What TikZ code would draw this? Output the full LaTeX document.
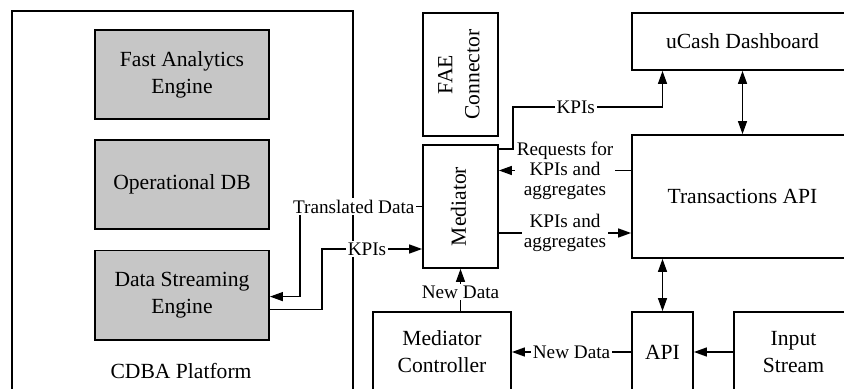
\documentclass[tikz,border=0pt]{standalone}
\usepackage{fontspec}
\setmainfont{Liberation Serif}
\usetikzlibrary{calc}
\usetikzlibrary{positioning}
\usetikzlibrary{arrows.meta}
\definecolor{boxgrey}{RGB}{198,198,198}
\providecommand\uptext[1]{\rotatebox{90}{\begin{tabular}{@{}c@{}}#1\end{tabular}}}

\begin{document}
\begin{tikzpicture}[x = 0.5pt, y = -0.5pt,
        line width = 0.9pt,
        >={Triangle[length = 6.5pt, width = 4.5pt]},
        box/.style = {draw, rectangle, align = center, inner sep = 0pt,
            font = \fontsize{10.8}{13.5}\selectfont},
        greybox/.style = {box, fill = boxgrey, minimum width = 87pt, minimum height = 44.5pt},
        vbox/.style = {box, minimum width = 37.5pt, minimum height = 61.5pt},
        lbl/.style = {fill = white, inner sep = 1pt, align = center,
            font = \fontsize{9.6}{10}\selectfont},
        conn/.style = {line width = 0.7pt}]
    \useasboundingbox (0,0) rectangle (844,389);
    \clip (0,0) rectangle (844,389);

    % CDBA side
    \node (cdba) at (182.5,215.5) [box, minimum width = 170.5pt, minimum height = 204.5pt] {};
    \node (cdbalabel) at (181,371) [font = \fontsize{10.8}{13.5}\selectfont] {CDBA Platform};

    \node (fae) at (182,74.5) [greybox] {Fast Analytics\\Engine};
    \node (odb) [greybox, below = 9.5pt of fae] {Operational DB};
    \node (dse) [greybox, below = 10pt of odb] {Data Streaming\\Engine};

    % middle column
    \node (faecon) at (460.5,74.5) [vbox] {\uptext{FAE\\Connector}};
    \node (mediator) at (460.5,206.5) [vbox] {\uptext{Mediator}};
    \node (mc) at (442,352) [box, minimum width = 69pt, minimum height = 40pt] {Mediator\\Controller};

    % right side
    \node (ucash) at (742.5,41.5) [box, minimum width = 110.5pt, minimum height = 28.5pt] {uCash Dashboard};
    \node (tapi) at (742.5,196.5) [box, minimum width = 110.5pt, minimum height = 61.5pt] {Transactions API};
    \node (api) at (662.5,352) [box, minimum width = 30.5pt, minimum height = 40pt] {API};
    \node (input) at (793.5,352) [box, minimum width = 59.5pt, minimum height = 40pt] {Input\\Stream};

    % connectors
    \draw[conn, <->] (ucash) -- (tapi);
    \draw[conn, <->] (api.north) -- (api.north |- tapi.south);
    \draw[conn, ->] (input) -- (api);
    \draw[conn, ->] (api) -- node[lbl] {New Data} (mc);
    \draw[conn, ->] (mediator.south |- mc.north) -- node[lbl, pos = 0.45] {New Data} (mediator.south);

    \coordinate (kpibend) at ($(api |- ucash.south)+(0,36)$);
    \draw[conn, ->] ([yshift = -2.5pt]mediator.north east) -- ++(14,0)
        |- node[lbl, pos = 0.71] {KPIs} (kpibend) -- (api |- ucash.south);

    \draw[conn, ->] ([yshift = 13pt]tapi.west) -- node[lbl] {Requests for\\KPIs and\\aggregates}
        ([yshift = 13pt]tapi.west -| mediator.east);
    \draw[conn, ->] ([yshift = -13.25pt]mediator.east) -- node[lbl] {KPIs and\\aggregates}
        ([yshift = -13.25pt]mediator.east -| tapi.west);

    \draw[conn, ->] (mediator.west) -- node[lbl, pos = 0.56] {Translated Data} ++(-122,0)
        |- ([yshift = -0.75pt]dse.east);
    \draw[conn, ->] ([yshift = -7.25pt]dse.east) -- ++(52,0)
        |- node[lbl, pos = 0.725] {KPIs} ([yshift = -21.25pt]mediator.west);

\end{tikzpicture}
\end{document}
